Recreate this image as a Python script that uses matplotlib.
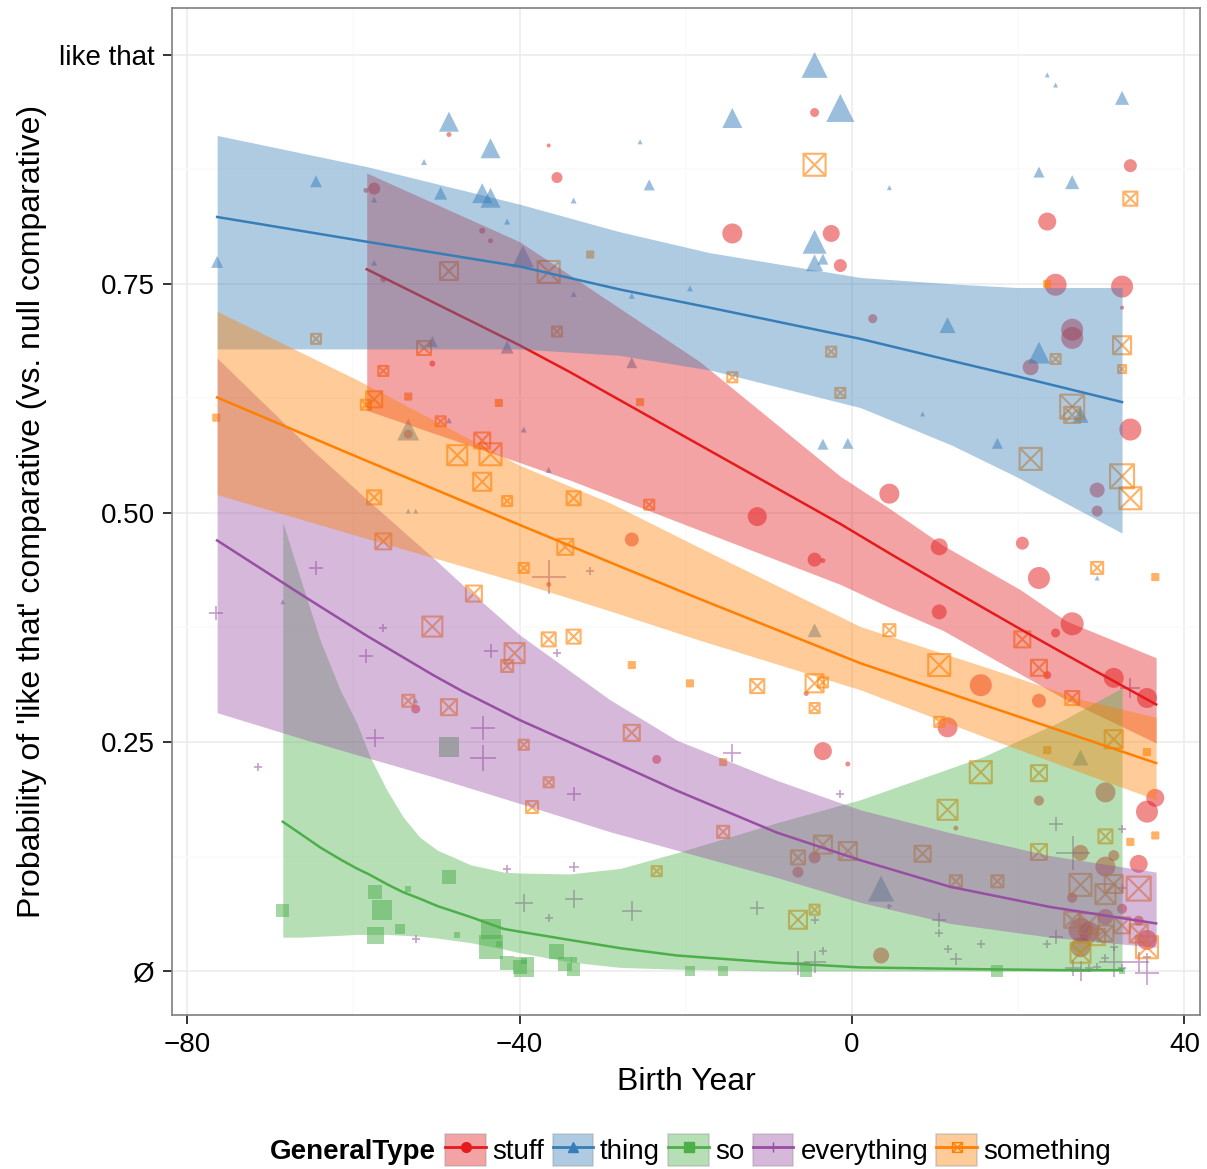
import numpy as np
import matplotlib.pyplot as plt
from matplotlib.path import Path
from matplotlib.patches import Patch
from matplotlib.lines import Line2D

plt.rcParams['font.family'] = ['Liberation Sans', 'DejaVu Sans']

# ---- colours (Set1) ----
c_stuff, c_thing, c_so, c_every, c_some = '#E41A1C', '#377EB8', '#4DAF4A', '#984EA3', '#FF7F00'

# ---- points: birth year, probability, weight ----
stuff_x = [-57.5, -58.5, -48.5, -44.5, -43.5, -56.4, -50.5, -36.5, -35.5, -14.4, -4.5, -2.5, -1.4, 2.5,
           33.5, 23.5, 24.5, 32.5, 32.5, 26.5, 26.5, 21.5, 4.5, 33.5, 29.5, 29.5, 20.5, 10.5, 22.5, 10.5,
           26.5, 24.5, 31.5, 35.5, 23.5, 15.5, -11.4, -26.5, -4.5, -3.5, -36.5, -5.5, -23.5, -3.5, -0.5,
           -4.5, -6.5, 11.5, 22.5, 30.5, 22.5, 12.5, 36.5, 35.5, 27.5, 31.5, 30.5, 34.5, 26.5, 32.5, 30.5,
           27.5, 28.5, 34.5, 35.5, 27.5, 3.5, -53.4, -52.5]
stuff_y = [0.854, 0.852, 0.913, 0.808, 0.797, 0.755, 0.663, 0.901, 0.866, 0.805, 0.937, 0.805, 0.770, 0.712,
           0.879, 0.818, 0.749, 0.747, 0.724, 0.700, 0.691, 0.659, 0.521, 0.591, 0.525, 0.502, 0.467, 0.463,
           0.429, 0.392, 0.379, 0.369, 0.320, 0.298, 0.323, 0.312, 0.496, 0.471, 0.449, 0.448, 0.422, 0.303,
           0.231, 0.240, 0.226, 0.124, 0.108, 0.266, 0.295, 0.195, 0.186, 0.156, 0.189, 0.174, 0.129, 0.126,
           0.114, 0.117, 0.080, 0.068, 0.059, 0.045, 0.043, 0.055, 0.034, 0.026, 0.017, 0.586, 0.286]
stuff_w = [12, 5, 5, 6, 5, 6, 6, 4, 11, 20, 9, 17, 13, 9,
           13, 18, 22, 22, 4, 22, 22, 16, 20, 22, 15, 11, 13, 17, 22, 15,
           23, 9, 20, 20, 8, 22, 19, 14, 14, 5, 5, 5, 9, 18, 5,
           12, 11, 20, 14, 20, 10, 5, 18, 22, 16, 11, 20, 18, 10, 10, 16,
           24, 20, 10, 20, 20, 16, 9, 9]

thing_x = [-48.5, -43.5, -44.5, -43.5, -49.5, -51.5, -57.5, -41.5, -64.5, -76.4, -57.5, -39.6, -50.5, -41.5,
           -4.5, -1.4, -14.4, -25.5, -24.4, -33.5, -4.5, -4.5, -3.5, -26.5, -33.5, -26.5, -19.5, 23.5, 24.5,
           32.5, 22.5, 26.5, 4.5, 11.5, 22.5, 27.5, 17.5, 8.5, -3.5, -0.5, -39.5, -36.5, -4.5, 29.5, -53.4,
           -48.5, -53.4, -52.5, -68.5, -52.5, 27.5, 3.5]
thing_y = [0.927, 0.898, 0.849, 0.844, 0.849, 0.883, 0.842, 0.818, 0.862, 0.774, 0.773, 0.780, 0.687, 0.681,
           0.989, 0.942, 0.931, 0.905, 0.858, 0.841, 0.796, 0.773, 0.777, 0.664, 0.739, 0.737, 0.745, 0.978,
           0.967, 0.953, 0.872, 0.861, 0.855, 0.705, 0.675, 0.607, 0.576, 0.608, 0.575, 0.576, 0.591, 0.547,
           0.372, 0.429, 0.591, 0.601, 0.502, 0.502, 0.403, 0.295, 0.233, 0.090]
thing_w = [20, 20, 20, 20, 13, 6, 6, 6, 12, 12, 6, 22, 11, 13,
           26, 28, 20, 5, 11, 6, 24, 17, 11, 11, 6, 6, 6, 5, 5,
           14, 11, 14, 5, 16, 22, 16, 11, 5, 11, 11, 6, 6, 14, 5, 22,
           6, 5, 5, 5, 5, 16, 26]

so_x = [-68.5, -57.4, -56.6, -57.4, -54.4, -53.4, -48.5, -47.5, -43.5, -43.5, -42.5, -41.5, -40.0, -48.5,
        -35.5, -34.5, -33.5, -33.5, -39.5, -39.5, -19.5, -15.5, -5.5, 17.5, 32.5]
so_y = [0.066, 0.086, 0.067, 0.039, 0.046, 0.090, 0.103, 0.039, 0.046, 0.026, 0.029, 0.009, 0.004, 0.245,
        0.021, 0.008, 0.002, 0.012, 0.011, 0.004, 0.0, 0.0, 0.0, 0.0, 0.0]
so_w = [13, 14, 20, 17, 10, 6, 14, 6, 20, 24, 6, 14, 14, 20,
        15, 14, 13, 6, 6, 20, 10, 10, 12, 12, 6]

every_x = [-76.5, -64.5, -58.5, -56.4, -43.5, -71.5, -57.4, -44.4, -44.4, -52.5, -41.5, -36.5, -31.5, -35.5,
           -33.5, -14.4, -1.4, -33.5, -39.5, -33.5, -36.5, -26.5, -11.4, -4.5, -3.5, -6.5, -4.5, 24.5, 26.6,
           32.5, 32.5, 4.5, 10.5, 10.5, 11.5, 12.5, 15.5, 23.5, 24.5, 26.6, 27.5, 28.5, 29.5, 30.5, 31.5,
           31.5, 32.5, 34.5, 35.5, 35.5, 33.5]
every_y = [0.391, 0.440, 0.344, 0.374, 0.349, 0.223, 0.254, 0.265, 0.233, 0.035, 0.111, 0.430, 0.437, 0.347,
           0.193, 0.238, 0.193, 0.114, 0.074, 0.079, 0.058, 0.066, 0.069, 0.056, 0.022, 0.009, 0.010, 0.160,
           0.129, 0.155, 0.091, 0.071, 0.056, 0.041, 0.024, 0.013, 0.029, 0.029, 0.037, 0.003, 0.0, 0.003,
           0.004, 0.014, 0.010, 0.026, 0.003, 0.010, -0.002, 0.015, 0.309]
every_w = [14, 14, 14, 8, 14, 8, 18, 24, 26, 8, 8, 34, 8, 8,
           14, 18, 8, 10, 18, 18, 8, 20, 14, 8, 8, 24, 22, 14, 34,
           8, 8, 5, 14, 8, 8, 12, 8, 8, 14, 16, 20, 8, 8, 8, 30,
           8, 8, 20, 24, 8, 20]

some_x = [-48.5, -51.5, -64.5, -56.4, -76.5, -36.5, -35.5, -31.5, -4.5, -2.5, -14.4, 33.5, 24.5, 32.5, 32.5,
          23.5, -57.5, -58.5, -53.4, -42.5, -49.5, -44.5, -47.5, -43.5, -44.5, -57.5, -41.5, -56.4, -45.5,
          -50.5, -41.5, -40.6, -53.4, -48.5, -1.4, -25.5, -33.5, -24.4, -34.5, -39.5, -36.5, -33.5, -26.5,
          -19.5, -11.4, -4.5, -3.5, -4.5, 26.5, 26.5, 21.5, 32.5, 33.5, 29.5, 36.5, 4.5, 10.5, 20.5, 22.5,
          26.5, -39.5, -26.5, -36.5, -38.5, -15.5, -15.5, -23.5, -6.5, -3.5, -0.5, -6.5, -4.5, 10.5, 31.5,
          23.5, 35.5, 15.5, 22.5, 11.5, 30.5, 33.5, 36.5, 8.5, 22.5, 12.5, 17.5, 27.5, 30.5, 31.5, 34.5,
          26.5, 28.5, 29.5, 30.5, 32.5, 34.5, 27.5, 35.5]
some_y = [0.764, 0.680, 0.690, 0.655, 0.604, 0.763, 0.698, 0.782, 0.880, 0.676, 0.648, 0.843, 0.668, 0.683,
          0.657, 0.750, 0.624, 0.618, 0.627, 0.620, 0.600, 0.579, 0.563, 0.564, 0.534, 0.517, 0.513, 0.469,
          0.412, 0.376, 0.333, 0.347, 0.295, 0.288, 0.631, 0.621, 0.516, 0.509, 0.463, 0.440, 0.362, 0.365,
          0.334, 0.314, 0.311, 0.314, 0.315, 0.287, 0.616, 0.607, 0.559, 0.540, 0.516, 0.440, 0.430, 0.372,
          0.334, 0.362, 0.331, 0.298, 0.247, 0.260, 0.206, 0.179, 0.228, 0.152, 0.109, 0.124, 0.138, 0.131,
          0.056, 0.067, 0.272, 0.253, 0.241, 0.239, 0.217, 0.216, 0.176, 0.147, 0.141, 0.148, 0.128, 0.130,
          0.098, 0.098, 0.094, 0.084, 0.095, 0.090, 0.056, 0.052, 0.037, 0.041, 0.050, 0.041, 0.020, 0.026]
some_w = [18, 14, 10, 10, 6, 22, 10, 6, 22, 10, 10, 14, 10, 18, 8,
          6, 16, 10, 6, 6, 10, 16, 20, 22, 18, 14, 10, 16, 16,
          20, 12, 20, 12, 16, 10, 6, 14, 10, 16, 10, 14, 14, 6,
          6, 14, 18, 10, 10, 24, 16, 22, 24, 22, 12, 6, 12, 22, 16, 16,
          14, 10, 16, 10, 12, 6, 12, 10, 14, 18, 18, 18, 10, 10, 18,
          6, 6, 22, 16, 20, 14, 6, 6, 16, 16, 12, 12, 22, 20, 18, 24,
          16, 20, 16, 16, 16, 18, 20, 22]

# ---- fitted curves and confidence bands ----
stuff_fx = [-58.4, -40.0, -34.0, -18.3, -1.4, 4.5, 10.9, 20.3, 25.8, 36.6]
stuff_fit = [0.766, 0.683, 0.654, 0.574, 0.488, 0.456, 0.422, 0.373, 0.345, 0.291]
stuff_hi = [0.871, 0.796, 0.760, 0.665, 0.540, 0.505, 0.465, 0.416, 0.382, 0.342]
stuff_lo = [0.612, 0.555, 0.536, 0.481, 0.422, 0.397, 0.372, 0.324, 0.296, 0.249]

thing_fx = [-76.4, -58.4, -40.0, -28.0, -17.1, 1.0, 12.0, 19.9, 32.5]
thing_fit = [0.823, 0.796, 0.769, 0.744, 0.724, 0.690, 0.666, 0.649, 0.621]
thing_hi = [0.912, 0.878, 0.837, 0.807, 0.784, 0.757, 0.750, 0.746, 0.746]
thing_lo = [0.679, 0.679, 0.679, 0.672, 0.656, 0.615, 0.574, 0.539, 0.478]

so_fx = [-68.5, -66.4, -64.0, -61.6, -59.6, -58.0, -56.0, -54.0, -52.0, -49.9, -45.9, -41.9, -40.0, -34.0,
         -27.9, -21.1, -9.0, 1.0, 15.8, 25.0, 32.5]
so_fit = [0.163, 0.150, 0.135, 0.122, 0.112, 0.105, 0.095, 0.086, 0.079, 0.071, 0.059, 0.046, 0.043, 0.034,
          0.025, 0.017, 0.009, 0.004, 0.002, 0.001, 0.001]
so_hi = [0.490, 0.429, 0.361, 0.307, 0.271, 0.234, 0.198, 0.168, 0.146, 0.132, 0.116, 0.108, 0.107, 0.106,
         0.112, 0.129, 0.162, 0.187, 0.234, 0.272, 0.309]
so_lo = [0.037, 0.037, 0.038, 0.039, 0.040, 0.040, 0.040, 0.039, 0.038, 0.036, 0.031, 0.024, 0.020, 0.010,
         0.004, 0.002, 0.0, 0.0, 0.0, 0.0, 0.0]

every_fx = [-76.4, -65.6, -58.4, -50.4, -46.8, -40.0, -29.1, -21.1, -9.0, 1.0, 11.8, 23.8, 36.6]
every_fit = [0.470, 0.407, 0.366, 0.323, 0.305, 0.274, 0.230, 0.197, 0.151, 0.121, 0.092, 0.070, 0.052]
every_hi = [0.669, 0.574, 0.515, 0.451, 0.421, 0.367, 0.296, 0.252, 0.208, 0.176, 0.151, 0.126, 0.108]
every_lo = [0.282, 0.252, 0.233, 0.212, 0.202, 0.183, 0.152, 0.132, 0.102, 0.075, 0.052, 0.037, 0.026]

some_fx = [-76.4, -59.5, -40.0, -29.1, -18.3, 1.0, 17.0, 27.8, 36.6]
some_fit = [0.626, 0.561, 0.487, 0.446, 0.406, 0.336, 0.287, 0.254, 0.227]
some_hi = [0.720, 0.645, 0.552, 0.511, 0.462, 0.376, 0.329, 0.296, 0.277]
some_lo = [0.520, 0.475, 0.424, 0.393, 0.361, 0.307, 0.252, 0.216, 0.187]

labels = ['stuff', 'thing', 'so', 'everything', 'something']
y_ticks = [0, 0.25, 0.5, 0.75, 1.0]
y_ticklabels = ['Ø', '0.25', '0.50', '0.75', 'like that']
x_ticks = [-80, -40, 0, 40]

# boxed-x marker (square with a cross)
boxx = Path([(-.5, -.5), (.5, -.5), (.5, .5), (-.5, .5), (-.5, -.5),
             (-.5, -.5), (.5, .5), (-.5, .5), (.5, -.5)],
            [Path.MOVETO, Path.LINETO, Path.LINETO, Path.LINETO, Path.CLOSEPOLY,
             Path.MOVETO, Path.LINETO, Path.MOVETO, Path.LINETO])


def msize(w):
    return (np.array(w) * 0.72) ** 2


fig = plt.figure(figsize=(12.07, 11.69), dpi=100)
ax = fig.add_axes([0.1425, 0.1317, 0.8517, 0.8614])

# points
ax.scatter(stuff_x, stuff_y, s=msize(stuff_w), marker='o', color=c_stuff, alpha=0.5, lw=0, zorder=2)
ax.scatter(thing_x, thing_y, s=msize(thing_w), marker='^', color=c_thing, alpha=0.5, lw=0, zorder=2)
ax.scatter(so_x, so_y, s=msize(so_w), marker='s', color=c_so, alpha=0.5, lw=0, zorder=2)
ax.scatter(every_x, every_y, s=msize(every_w), marker='+', color=c_every, alpha=0.55, lw=1.2, zorder=2)
ax.scatter(some_x, some_y, s=msize(some_w), marker=boxx, facecolors='none', edgecolors=c_some,
           alpha=0.6, lw=1.5, zorder=2)

# smooths, drawn group after group like ggplot
z = 3
for fx, fit, lo, hi, c in [(stuff_fx, stuff_fit, stuff_lo, stuff_hi, c_stuff),
                           (thing_fx, thing_fit, thing_lo, thing_hi, c_thing),
                           (so_fx, so_fit, so_lo, so_hi, c_so),
                           (every_fx, every_fit, every_lo, every_hi, c_every),
                           (some_fx, some_fit, some_lo, some_hi, c_some)]:
    ax.fill_between(fx, lo, hi, color=c, alpha=0.4, lw=0, zorder=z)
    ax.plot(fx, fit, color=c, lw=1.8, zorder=z + 0.5)
    z += 1

ax.set_xlim(-81.83, 41.88)
ax.set_ylim(-0.048, 1.051)
ax.set_xticks(x_ticks)
ax.set_xticks([-60, -20, 20], minor=True)
ax.set_yticks(y_ticks)
ax.set_yticklabels(y_ticklabels)
ax.set_yticks([0.125, 0.375, 0.625, 0.875], minor=True)
ax.grid(which='major', color='#EBEBEB', lw=1.1, zorder=0)
ax.grid(which='minor', color='#FAFAFA', lw=1.1, zorder=0)
ax.set_axisbelow(True)
ax.tick_params(which='major', length=6.5, width=1.4, color='#333333', labelsize=20, labelcolor='black', pad=6)
ax.tick_params(which='minor', length=0)
for sp in ax.spines.values():
    sp.set_color('#7F7F7F')
    sp.set_linewidth(1.2)

ax.set_xlabel('Birth Year', fontsize=23, labelpad=6)
ax.set_ylabel("Probability of 'like that' comparative (vs. null comparative)", fontsize=23, labelpad=9)

# legend
mk = ['o', '^', 's', '+', boxx]
cols = [c_stuff, c_thing, c_so, c_every, c_some]
handles = []
for m, c in zip(mk, cols):
    box = Patch(facecolor=c, alpha=0.4, edgecolor='#999999', lw=1.2)
    if m is boxx:
        ln = Line2D([], [], color=c, lw=2, marker=m, markersize=7, markerfacecolor='none',
                    markeredgecolor=c, markeredgewidth=1)
    else:
        ln = Line2D([], [], color=c, lw=2, marker=m, markersize=7, markeredgewidth=1)
    handles.append((box, ln))

fig.text(0.3615, 1 - 1152 / 1169, 'GeneralType', ha='right', va='center', fontsize=20, weight='bold')
fig.legend(handles, labels, loc='center left', bbox_to_anchor=(0.369, 1 - 1150 / 1169), ncol=5,
           frameon=False, fontsize=20, handlelength=1.45, handleheight=1.35, handletextpad=0.25,
           columnspacing=0.3, borderpad=0, borderaxespad=0)

fig.savefig('out.png', dpi=100)
